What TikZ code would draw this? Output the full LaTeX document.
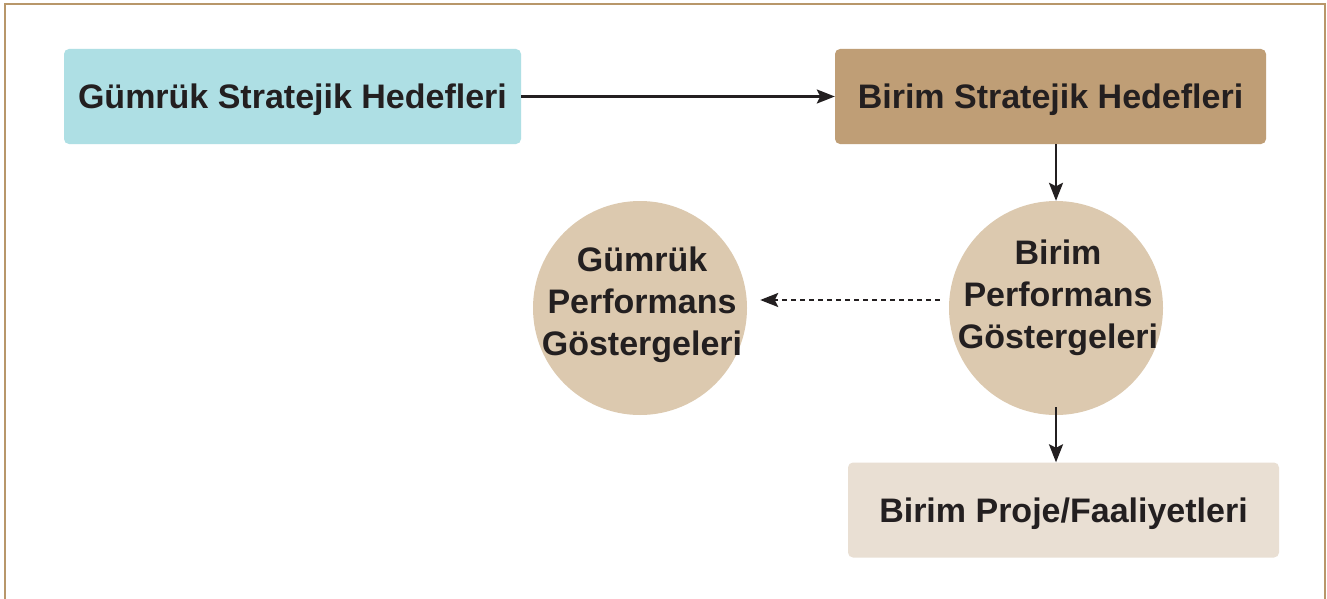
\documentclass[tikz,border=0pt]{standalone}
\usepackage{fontspec}
\setmainfont{Liberation Sans}
\usetikzlibrary{arrows.meta}
\definecolor{frame}{HTML}{B8976A}
\definecolor{cyanbox}{HTML}{AEDFE4}
\definecolor{brownbox}{HTML}{BF9E76}
\definecolor{circfill}{HTML}{DCC9AF}
\definecolor{palebox}{HTML}{E9DFD3}
\definecolor{ink}{HTML}{231F20}
\tikzset{
  rbox/.style={rounded corners=5pt, minimum width=#1, minimum height=95pt, inner sep=0pt,
    text height=24.3pt, text depth=0pt,
    font=\fontsize{34}{40}\selectfont\bfseries, text=ink, align=center},
  circ/.style={circle, fill=circfill, minimum size=214pt, inner sep=0pt},
  ctext/.style={text=ink, font=\fontsize{34}{42}\selectfont\bfseries, align=center},
  conn/.style={draw=ink, line width=2.4pt, -{Stealth[length=18pt,width=14pt,inset=3.5pt]}},
  dconn/.style={conn, dash pattern=on 5pt off 4pt}
}
\begin{document}
\begin{tikzpicture}[x=1pt,y=-1pt]
\useasboundingbox (0,0) rectangle (1327,599);
\fill[white] (0,0) rectangle (1327,599);
\draw[frame, line width=2.2pt] (5,600) -- (5,4) -- (1325,4) -- (1325,600);
\node[rbox=457pt, fill=cyanbox] (gsh) at (292.5,96.5) {Gümrük Stratejik Hedefleri};
\node[rbox=431pt, fill=brownbox] (bsh) at (1050.5,96.5) {Birim Stratejik Hedefleri};
\node[circ] (bpg) at (1056,308) {};
\node[ctext] (bpgt) at (1058,298) {Birim\\Performans\\Göstergeleri};
\node[circ] (gpg) at (640,308) {};
\node[ctext] (gpgt) at (642,305) {Gümrük\\Performans\\Göstergeleri};
\node[rbox=431pt, fill=palebox] (bpf) at (1063.5,510) {Birim Proje/Faaliyetleri};
\draw[conn] (gsh.east) -- (bsh.west);
\draw[conn] (bsh.south -| bpg.center) -- (bpg.north);
\draw[conn] ([yshift=8pt]bpg.south) -- (bpf.north -| bpg.center);
\draw[dconn] ([xshift=-9pt,yshift=8pt]bpg.west) -- ([xshift=13pt,yshift=8pt]gpg.east);
\end{tikzpicture}
\end{document}
